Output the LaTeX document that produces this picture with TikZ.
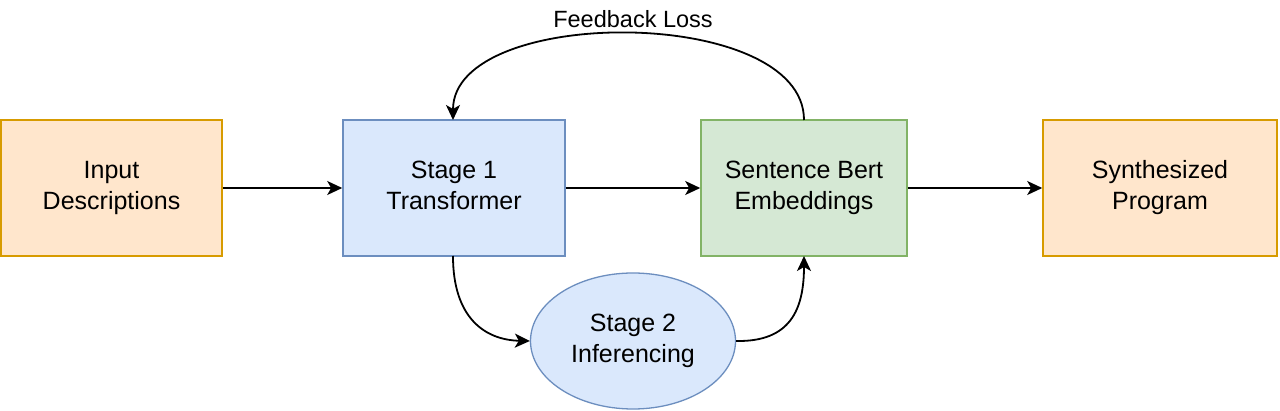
\documentclass[tikz,border=0pt]{standalone}
\usepackage{fontspec}
\setmainfont{Liberation Sans}
\usetikzlibrary{arrows.meta,shapes.geometric}
\definecolor{orfill}{HTML}{FFE6CC}\definecolor{ordraw}{HTML}{D79B00}
\definecolor{blfill}{HTML}{DAE8FC}\definecolor{bldraw}{HTML}{6C8EBF}
\definecolor{grfill}{HTML}{D5E8D4}\definecolor{grdraw}{HTML}{82B366}
\tikzset{
  box/.style={rectangle, line width=1.6pt, minimum height=136pt, align=center,
    font=\fontsize{25}{31}\selectfont, inner sep=0pt, text depth=6pt},
  orbox/.style={box, fill=orfill, draw=ordraw},
  blbox/.style={box, fill=blfill, draw=bldraw},
  grbox/.style={box, fill=grfill, draw=grdraw},
  ell/.style={ellipse, line width=1.3pt, fill=blfill, draw=bldraw, minimum width=205pt,
    minimum height=136pt, align=center, font=\fontsize{25}{31}\selectfont, inner sep=0pt},
  conn/.style={line width=1.8pt, -{Stealth[length=15pt,width=14pt,inset=4pt]}},
  lbl/.style={font=\fontsize{23.5}{28}\selectfont}
}
\begin{document}
\begin{tikzpicture}[x=1pt,y=-1pt]
\useasboundingbox (0,0) rectangle (1280,411);
\fill[white] (0,0) rectangle (1280,411);
\node[orbox, minimum width=221pt] (inp) at (111.5,188) {Input\\Descriptions};
\node[blbox, minimum width=222pt] (st1) at (454,188) {Stage 1\\Transformer};
\node[grbox, minimum width=206pt] (sbe) at (804,188) {Sentence Bert\\Embeddings};
\node[orbox, minimum width=234pt] (syn) at (1160,188) {Synthesized\\Program};
\node[ell] (st2) at (633,341) {Stage 2\\Inferencing};
\coordinate (st1t) at (453,120);
\coordinate (st1b) at (453,256);
\coordinate (sbet) at (804,120);
\coordinate (sbeb) at (804,256);
\draw[conn] (inp.east) -- (st1.west);
\draw[conn] (st1.east) -- (sbe.west);
\draw[conn] (sbe.east) -- (syn.west);
\draw[conn] (sbet) .. controls (804,5) and (453,5) .. (st1t);
\draw[conn] (st1b) .. controls (453,318) and (485,340) .. (st2.west);
\draw[conn] (st2.east) .. controls (790,342) and (804,310) .. (sbeb);
\node[lbl] (fb) at (633,19) {Feedback Loss};
\end{tikzpicture}
\end{document}
